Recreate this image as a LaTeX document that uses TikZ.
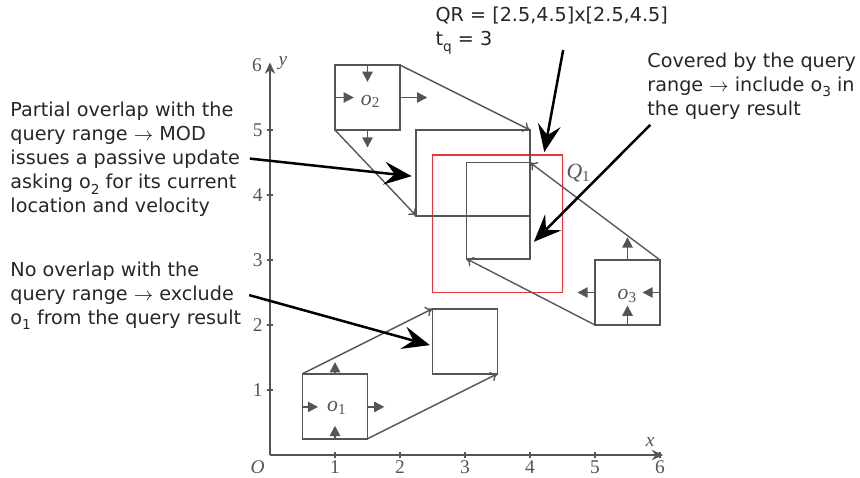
\documentclass[tikz,border=0pt]{standalone}
\usepackage{fontspec}
\setmainfont{Liberation Serif}
\newfontfamily\annfont{DejaVu Sans}
\usetikzlibrary{arrows.meta}
\definecolor{lgray}{RGB}{85,85,85}
\definecolor{qred}{RGB}{232,52,60}
\newcommand\sbs[1]{\raisebox{-0.55ex}{\fontsize{6}{6}\selectfont #1}}
\tikzset{
  axisline/.style={draw=lgray, line width=0.9pt, -{Stealth[length=5pt,width=4.5pt]}},
  tickmark/.style={draw=lgray, line width=0.6pt},
  ticklabel/.style={text=lgray, font=\fontsize{8.5}{9}\selectfont, inner sep=0pt},
  objbox/.style={draw=lgray, line width=0.7pt},
  conn/.style={draw=lgray, line width=0.6pt, -{To[length=3pt,width=4.5pt]}},
  motion/.style={draw=lgray, line width=0.8pt, -{Triangle[length=4.5pt,width=4.5pt]}},
  objlabel/.style={text=lgray, font=\fontsize{9.5}{10}\selectfont, inner sep=0pt},
  note/.style={draw=black, line width=1.1pt, -{Stealth[length=12pt,width=10pt,inset=4.5pt]}},
  ann/.style={font=\annfont\fontsize{8.4}{10.5}\selectfont, align=left, inner sep=0pt, text=black!85},
}
\begin{document}
\begin{tikzpicture}[x=1cm,y=1cm]
\path[use as bounding box] (-4.1538,-0.3385) rectangle (9.0769,7.0);

% axes
\coordinate (O) at (0,0);
\coordinate (xend) at (6.05,0);
\coordinate (yend) at (0,6.04);
\draw[axisline] (O) -- (xend);
\draw[axisline] (O) -- (yend);
\foreach \i in {1,...,6} {
  \draw[tickmark] (\i,-0.05) -- (\i,0.05);
  \node[ticklabel] (xl\i) at (\i,-0.19) {\i};
}
\foreach \i in {1,...,5} {
  \draw[tickmark] (-0.05,\i) -- (0.05,\i);
  \node[ticklabel] (yl\i) at (-0.19,\i) {\i};
}
\node[ticklabel] (yl6) at (-0.2,6.0) {6};
\node[ticklabel] (Olab) at (-0.19,-0.19) {\textit{O}};
\node[ticklabel] (xlab) at (5.85,0.2) {\textit{x}};
\node[ticklabel] (ylab) at (0.2,6.03) {\textit{y}};

% query range
\draw[draw=qred, line width=0.8pt] (2.5,2.5) rectangle (4.5,4.62);
\node[objlabel] (Q1) at (4.75,4.34) {\textit{Q}\textsubscript{1}};

% o2
\draw[objbox] (1,5) rectangle (2,6);
\node[objlabel] (o2) at (1.55,5.44) {\textit{o}\textsubscript{2}};
\draw[motion] (1.5,6) -- (1.5,5.74);
\draw[motion] (1,5.5) -- (1.29,5.5);
\draw[motion] (2,5.5) -- (2.42,5.5);
\draw[motion] (1.5,5) -- (1.5,4.73);
\draw[objbox] (2.25,3.68) rectangle (4,5);
\coordinate (o2tr) at (2,6);
\coordinate (o2bl) at (1,5);
\coordinate (p2tr) at (4,5);
\coordinate (p2bl) at (2.25,3.68);
\draw[conn] (o2tr) -- (p2tr);
\draw[conn] (o2bl) -- (p2bl);

% o3
\draw[objbox] (5,2) rectangle (6,3);
\node[objlabel] (o3) at (5.5,2.44) {\textit{o}\textsubscript{3}};
\draw[motion] (5.5,3) -- (5.5,3.35);
\draw[motion] (5,2.5) -- (4.73,2.5);
\draw[motion] (6,2.5) -- (5.73,2.5);
\draw[motion] (5.5,2) -- (5.5,2.3);
\draw[objbox] (3.02,3.02) rectangle (4,4.5);
\coordinate (o3tr) at (6,3);
\coordinate (o3bl) at (5,2);
\coordinate (p3tr) at (4,4.5);
\coordinate (p3bl) at (3.02,3.02);
\draw[conn] (o3tr) -- (p3tr);
\draw[conn] (o3bl) -- (p3bl);

% o1
\draw[objbox] (0.5,0.25) rectangle (1.5,1.25);
\node[objlabel] (o1) at (1.03,0.72) {\textit{o}\textsubscript{1}};
\draw[motion] (1,1.25) -- (1,1.43);
\draw[motion] (0.5,0.74) -- (0.74,0.74);
\draw[motion] (1.5,0.74) -- (1.76,0.74);
\draw[motion] (1,0.25) -- (1,0.45);
\draw[objbox] (2.5,1.25) rectangle (3.5,2.25);
\coordinate (o1tl) at (0.5,1.25);
\coordinate (o1br) at (1.5,0.25);
\coordinate (p1tl) at (2.5,2.25);
\coordinate (p1br) at (3.5,1.25);
\draw[conn] (o1tl) -- (p1tl);
\draw[conn] (o1br) -- (p1br);

% annotations
\node[ann, anchor=west] (t2) at (-4.0,4.55) {Partial overlap with the\\query range \(\rightarrow\) MOD\\issues a passive update\\asking o\sbs{2} for its current\\location and velocity};
\node[ann, anchor=west] (t1) at (-4.0,2.45) {No overlap with the\\query range \(\rightarrow\) exclude\\o\sbs{1} from the query result};
\node[ann, anchor=west] (tq) at (2.54,6.53) {QR = [2.5,4.5]x[2.5,4.5]\\t\sbs{q} = 3};
\node[ann, anchor=west] (t3) at (5.8,5.68) {Covered by the query\\range \(\rightarrow\) include o\sbs{3} in\\the query result};

\coordinate (a1s) at (-0.31,4.56);
\coordinate (a1e) at (2.18,4.29);
\coordinate (a2s) at (-0.32,2.46);
\coordinate (a2e) at (2.46,1.69);
\coordinate (a3s) at (4.51,6.23);
\coordinate (a3e) at (4.22,4.66);
\coordinate (a4s) at (5.85,5.08);
\coordinate (a4e) at (4.06,3.28);
\draw[note] (a1s) -- (a1e);
\draw[note] (a2s) -- (a2e);
\draw[note] (a3s) -- (a3e);
\draw[note] (a4s) -- (a4e);
\end{tikzpicture}
\end{document}
